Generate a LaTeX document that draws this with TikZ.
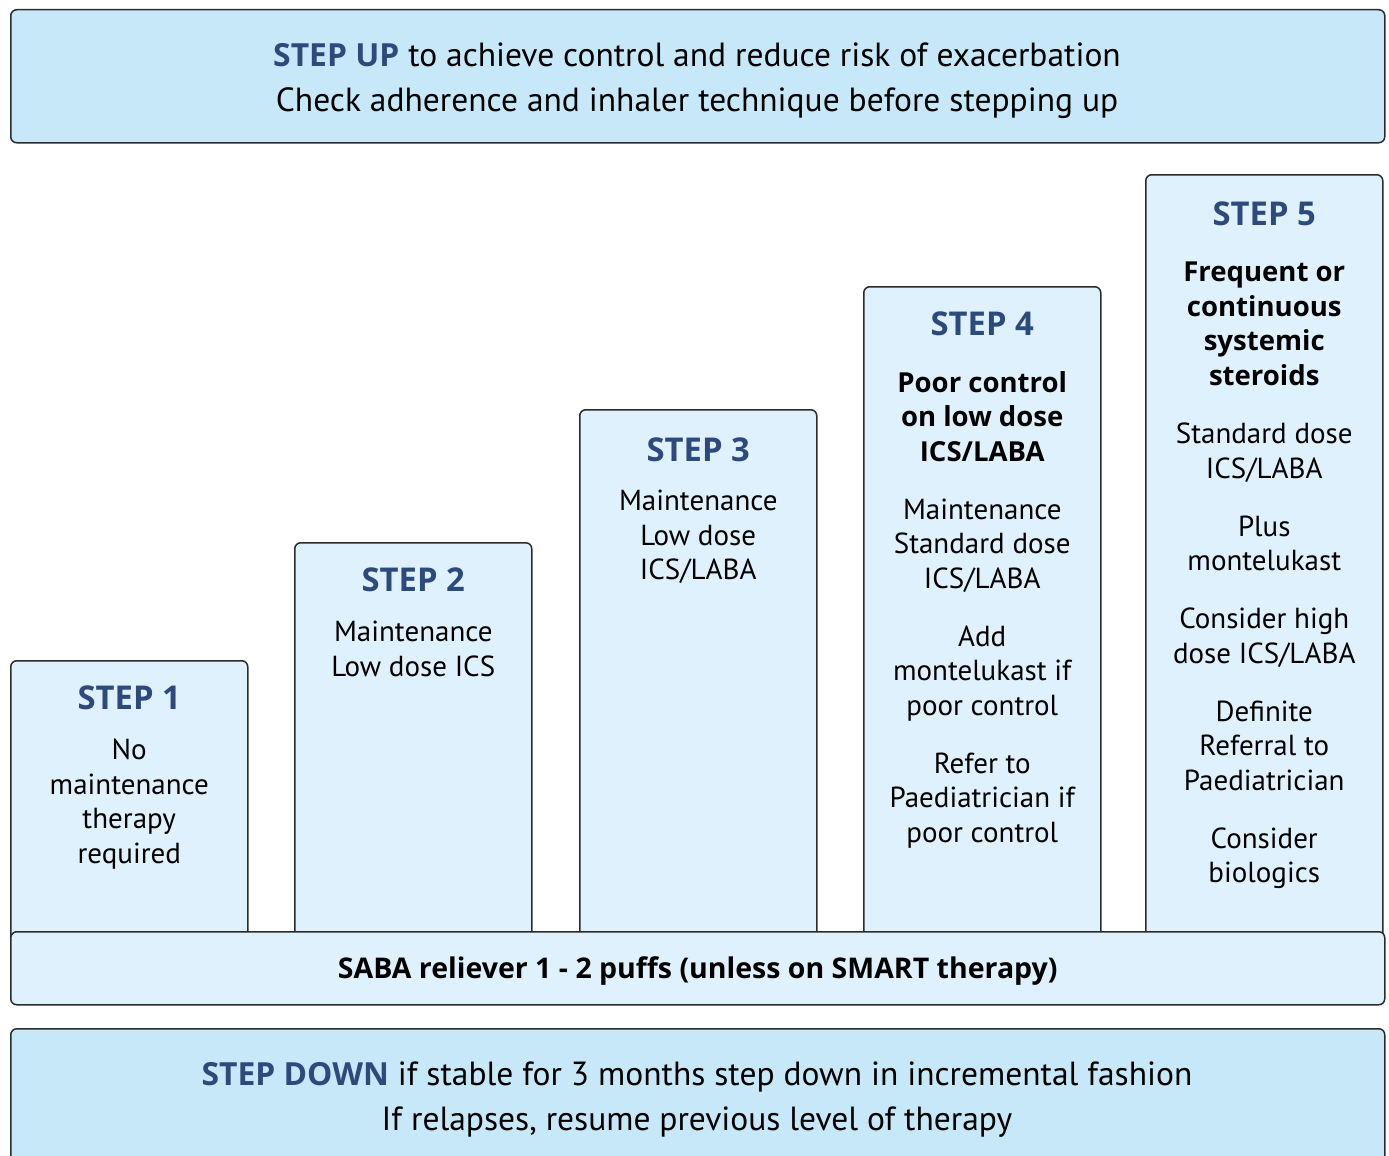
\documentclass[tikz,border=0pt]{standalone}
\usepackage{fontspec}
\setmainfont{PT Sans}[BoldFont=Open Sans Bold, BoldFeatures={Scale=0.95}]
\usetikzlibrary{calc,positioning}
\definecolor{bandblue}{HTML}{C6E8F8}
\definecolor{stepblue}{HTML}{DFF1FC}
\definecolor{titleblue}{HTML}{2C4A7C}
\definecolor{edgegray}{HTML}{2B2B2B}
\tikzset{
	band/.style={draw=edgegray, line width=1.5pt, rounded corners=6pt, fill=bandblue, anchor=north west, minimum width=1374pt, inner sep=0pt},
	stepbox/.style={draw=edgegray, line width=1.5pt, rounded corners=6pt, fill=stepblue, anchor=north west, minimum width=237pt, inner sep=0pt},
	steptitle/.style={font=\fontsize{34.5}{40}\selectfont\bfseries, text=titleblue, inner sep=0pt},
	steptext/.style={font=\fontsize{29}{34.5}\selectfont, align=center, anchor=north, inner sep=0pt},
	bandtext/.style={font=\fontsize{33.5}{45}\selectfont, align=center, inner sep=0pt},
}

\begin{document}
\begin{tikzpicture}[x=1pt,y=-1pt]
				\useasboundingbox (0,0) rectangle (1389,1156);
				
				\node[band, minimum height=133pt] (up) at (10,9) {};
				\node[bandtext] (uptext) at (697,81) {{\color{titleblue}\bfseries STEP UP} to achieve control and reduce risk of exacerbation\\Check adherence and inhaler technique before stepping up};
				
				\node[stepbox, minimum height=300pt] (s1) at (10,660) {};
				\node[stepbox, minimum height=418pt] (s2) at (294,542) {};
				\node[stepbox, minimum height=551pt] (s3) at (579,409) {};
				\node[stepbox, minimum height=674pt] (s4) at (863,286) {};
				\node[stepbox, minimum height=786pt] (s5) at (1145,174) {};
				
				\node[steptitle] (t1) at ($(s1.north)+(0,38)$) {STEP 1};
				\node[steptitle] (t2) at ($(s2.north)+(0,38)$) {STEP 2};
				\node[steptitle] (t3) at ($(s3.north)+(0,41)$) {STEP 3};
				\node[steptitle] (t4) at ($(s4.north)+(0,38)$) {STEP 4};
				\node[steptitle] (t5) at ($(s5.north)+(0,40)$) {STEP 5};
				
				\node[steptext] (b1) at ($(t1)+(0,41)$) {No\\maintenance\\therapy\\required};
				\node[steptext] (b2) at ($(t2)+(0,41)$) {Maintenance\\Low dose ICS};
				\node[steptext] (b3) at ($(t3)+(0,40)$) {Maintenance\\Low dose\\ICS/LABA};
				\node[steptext] (b4) at ($(t4)+(0,47)$) {\textbf{Poor control}\\\textbf{on low dose}\\\textbf{ICS/LABA}\\[23.5pt]
					Maintenance\\Standard dose\\ICS/LABA\\[23.5pt]
					Add\\montelukast if\\poor control\\[23.5pt]
					Refer to\\Paediatrician if\\poor control};
				\node[steptext] (b5) at ($(t5)+(0,48)$) {\textbf{Frequent or}\\\textbf{continuous}\\\textbf{systemic}\\\textbf{steroids}\\[24pt]
					Standard dose\\ICS/LABA\\[23.5pt]
					Plus\\montelukast\\[23.5pt]
					Consider high\\dose ICS/LABA\\[23.5pt]
					Definite\\Referral to\\Paediatrician\\[23.5pt]
					Consider\\biologics};
				
				\node[band, fill=stepblue, minimum height=73pt] (saba) at (10,931) {};
				\node[font=\fontsize{30}{36}\selectfont\bfseries] (sabatext) at ($(saba.center)+(0,3)$) {SABA reliever 1 - 2 puffs (unless on SMART therapy)};
				
				\node[band, minimum height=150pt] (down) at (10,1028) {};
				\node[bandtext] (downtext) at (697,1100) {{\color{titleblue}\bfseries STEP DOWN} if stable for 3 months step down in incremental fashion\\If relapses, resume previous level of therapy};
			\end{tikzpicture}
\end{document}
